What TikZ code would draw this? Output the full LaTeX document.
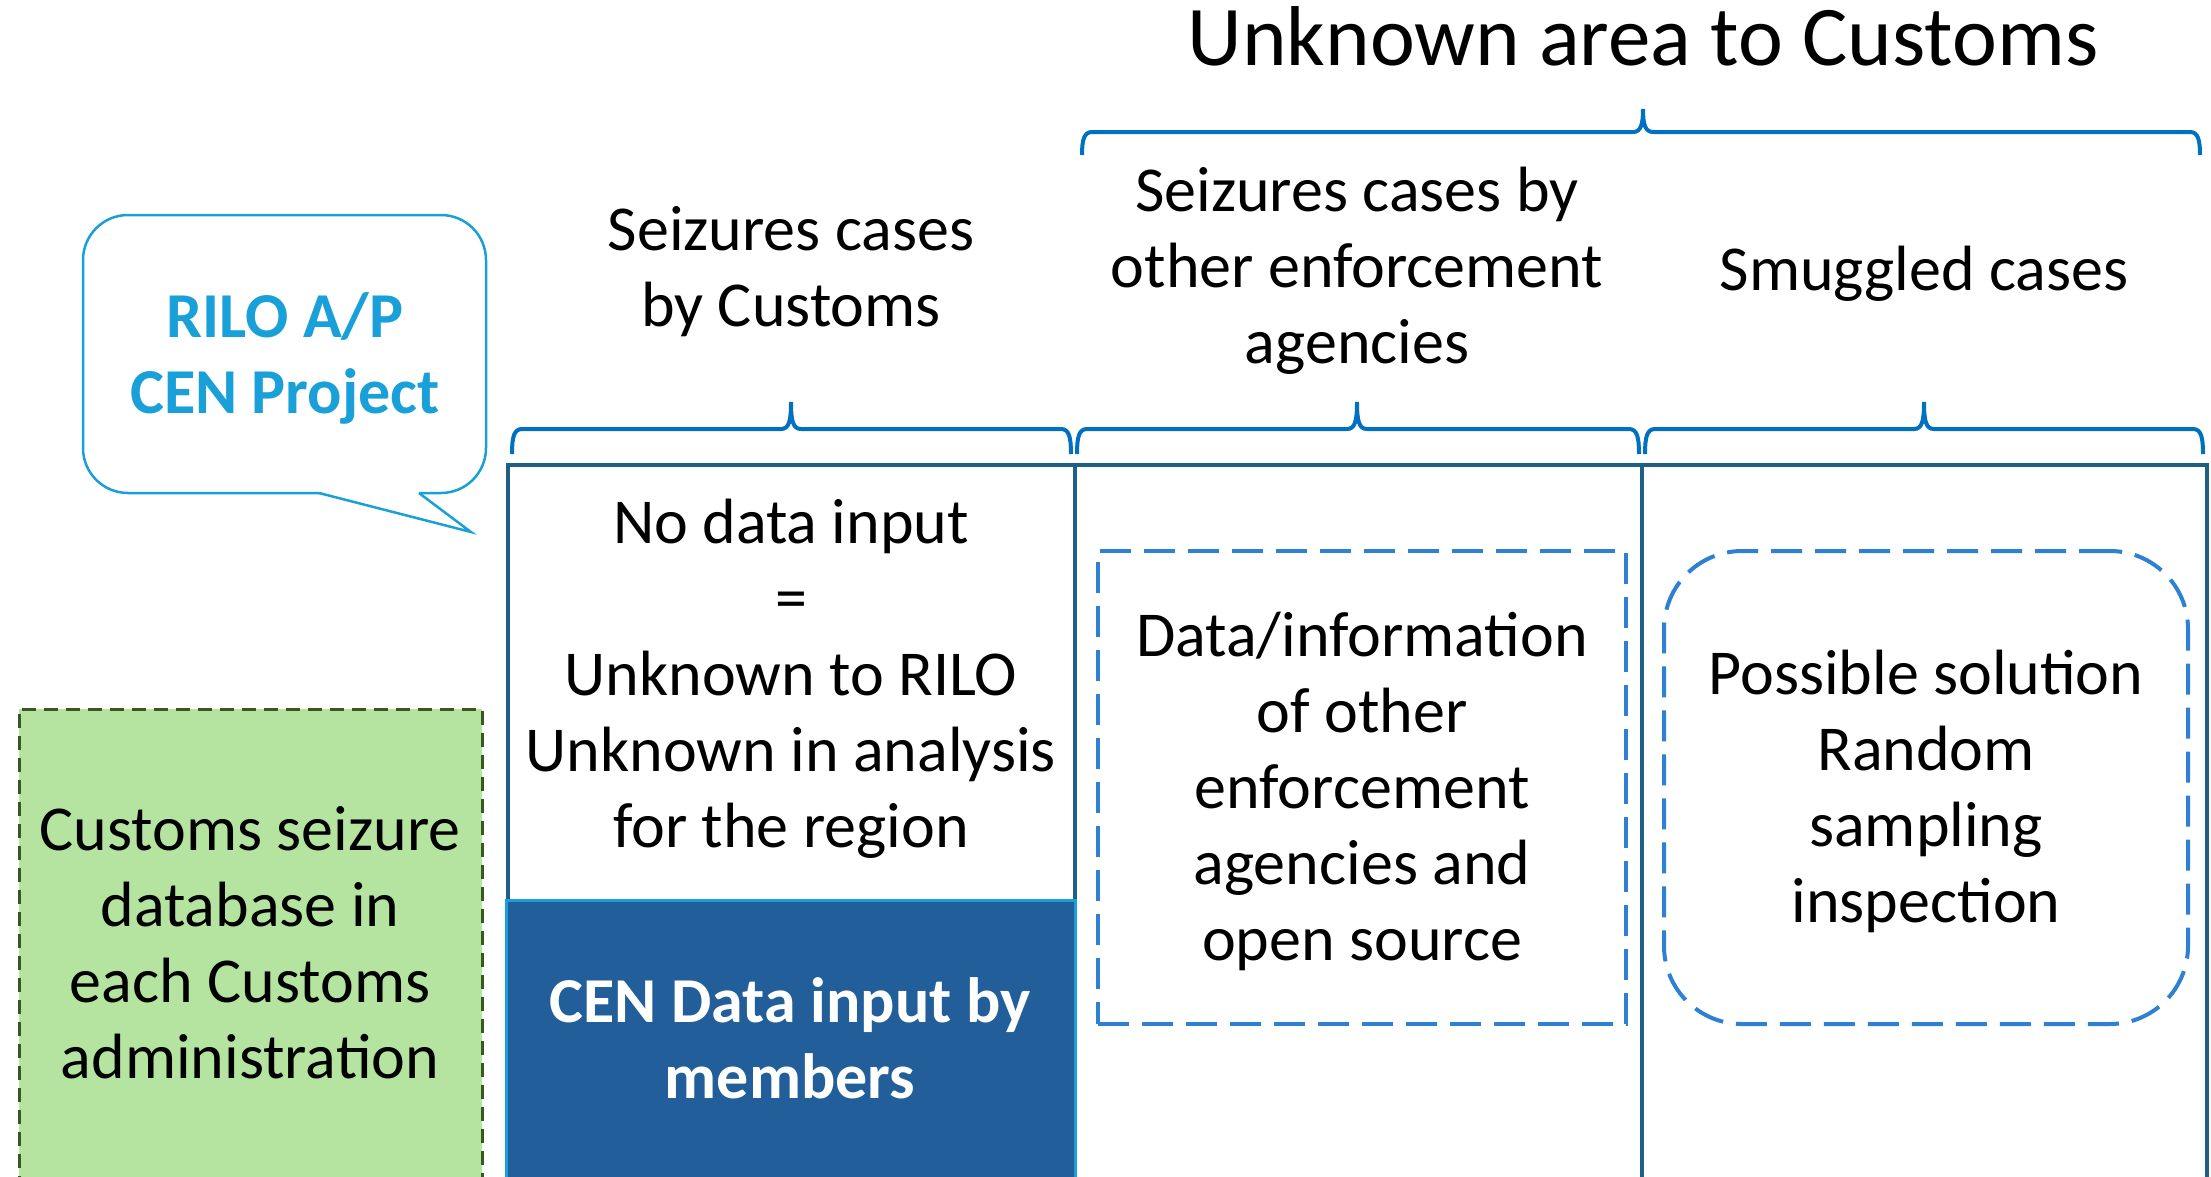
\documentclass[tikz,border=0pt]{standalone}
\usepackage{fontspec}
\setmainfont{Carlito}
\definecolor{bubblec}{RGB}{26,160,216}
\definecolor{bracec}{RGB}{0,112,192}
\definecolor{tablec}{RGB}{30,95,135}
\definecolor{darkboxc}{RGB}{34,94,154}
\definecolor{dashc}{RGB}{46,128,210}
\definecolor{greenfill}{RGB}{181,227,160}
\definecolor{greenline}{RGB}{56,87,35}
\newcommand\mlines[1]{\begin{tabular}[t]{@{}c@{}}#1\end{tabular}}
\newcommand\curlyb[6]{%
  \draw[bracestyle] (#1,#6) .. controls (#1,{#5+8}) and ({#1+2},#5) .. ({#1+10},#5)
    -- ({#2-10},#5) .. controls ({#2-2},#5) and (#2,{#5-8}) .. (#2,#4)
    .. controls (#2,{#5-8}) and ({#2+2},#5) .. ({#2+10},#5)
    -- ({#3-10},#5) .. controls ({#3-2},#5) and (#3,{#5+8}) .. (#3,#6);}
\tikzset{
  bodytext/.style={anchor=base, inner sep=0pt, font=\fontsize{64}{76}\selectfont},
  bracestyle/.style={draw=bracec, line width=4pt},
  tableline/.style={draw=tablec, line width=4pt},
  bluedash/.style={draw=dashc, line width=4pt, dash pattern=on 31pt off 13pt},
}
\begin{document}
\begin{tikzpicture}[x=1pt,y=-1pt]
\useasboundingbox (0,0) rectangle (2211,1176);
% title
\node[anchor=base, inner sep=0pt, font=\fontsize{85}{100}\selectfont] (title) at (1643,65) {Unknown area to Customs};
% braces
\curlyb{1082}{1643}{2200}{109}{132}{155}
\curlyb{512}{791}{1071}{402}{429}{454}
\curlyb{1077}{1357}{1639}{402}{429}{454}
\curlyb{1645}{1924}{2203}{402}{429}{454}
% headers
\node[bodytext] (h1) at (791,250) {\mlines{Seizures cases\\by Customs}};
\node[bodytext] (h2) at (1357,211) {\mlines{Seizures cases by\\other enforcement\\agencies}};
\node[bodytext] (h3) at (1924,290) {Smuggled cases};
% table
\draw[tableline] (508,1190) -- (508,465) -- (2207,465) -- (2207,1190);
\draw[tableline] (1075,465) -- (1075,1190);
\draw[tableline] (1642,465) -- (1642,1190);
% dark box
\fill[darkboxc] (506,900) rectangle (1075,1190);
\draw[draw=bubblec, line width=3pt] (506,1190) -- (506,900) -- (1075,900) -- (1075,1190);
\node[bodytext, font=\fontsize{64}{76}\selectfont\bfseries, text=white] (cen) at (790,1022) {\mlines{CEN Data input by\\members}};
% column 1 text
\node[bodytext] (b1) at (791,543) {\mlines{No data input\\=\\Unknown to RILO\\Unknown in analysis\\for the region}};
% column 2 box
\node[bluedash, minimum width=528pt, minimum height=473pt, inner sep=0pt] (b2box) at (1362,787.5) {};
\node[bodytext] (b2) at (1362,656) {\mlines{Data/information\\of other\\enforcement\\agencies and\\open source}};
% column 3 box
\node[bluedash, rounded corners=78pt, minimum width=524pt, minimum height=473pt, inner sep=0pt] (b3box) at (1926,787.5) {};
\node[bodytext] (b3) at (1926,694) {\mlines{Possible solution\\Random\\sampling\\inspection}};
% green box
\fill[greenfill] (19,709) rectangle (482,1190);
\draw[draw=greenline, line width=3pt, dash pattern=on 14pt off 8pt] (19,1190) -- (19,709) -- (482,709) -- (482,1190);
\node[bodytext] (green) at (250,850) {\mlines{Customs seizure\\database in\\each Customs\\administration}};
% bubble
\node[draw=bubblec, line width=2.5pt, fill=white, rounded corners=45pt, minimum width=403pt, minimum height=278pt, inner sep=0pt] (bubble) at (284.5,354) {};
\fill[white] (319,490) -- (419,490) -- (419,493) -- (471,532) -- (319,493) -- cycle;
\draw[draw=bubblec, line width=2.5pt, line join=miter] (319,493) -- (471,532) -- (419,493);
\node[anchor=base, inner sep=0pt, text=bubblec, font=\fontsize{64}{76}\selectfont\bfseries] (rilo) at (285,337) {\mlines{RILO A/P\\CEN Project}};
\end{tikzpicture}
\end{document}
